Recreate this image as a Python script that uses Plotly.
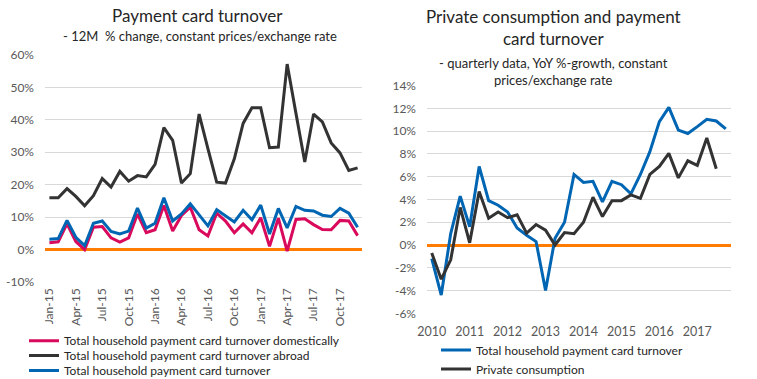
import plotly.graph_objects as go

# ---------- Left chart data (monthly, 12M % change) ----------
months = ["Jan-15","Feb-15","Mar-15","Apr-15","May-15","Jun-15","Jul-15","Aug-15","Sep-15","Oct-15","Nov-15","Dec-15",
          "Jan-16","Feb-16","Mar-16","Apr-16","May-16","Jun-16","Jul-16","Aug-16","Sep-16","Oct-16","Nov-16","Dec-16",
          "Jan-17","Feb-17","Mar-17","Apr-17","May-17","Jun-17","Jul-17","Aug-17","Sep-17","Oct-17","Nov-17","Dec-17"]
month_ticks = ["Jan-15","Apr-15","Jul-15","Oct-15","Jan-16","Apr-16","Jul-16","Oct-16","Jan-17","Apr-17","Jul-17","Oct-17"]

domestic = [2.1, 2.4, 7.9, 2.5, 0.0, 6.9, 7.1, 3.6, 2.3, 3.6, 11.0, 5.2,
            6.1, 13.6, 5.7, 10.5, 13.1, 6.1, 4.2, 11.2, 8.8, 5.2, 7.9, 5.2,
            9.8, 1.0, 9.7, -0.5, 9.3, 9.5, 7.7, 6.2, 6.1, 9.0, 8.8, 4.3]
abroad = [16.0, 16.0, 18.8, 16.4, 13.5, 16.6, 21.9, 19.3, 24.1, 21.1, 22.8, 22.4,
          26.3, 37.6, 33.7, 20.5, 23.4, 41.8, 31.1, 20.8, 20.5, 28.0, 38.9, 43.7,
          43.7, 31.4, 31.6, 57.2, 42.0, 27.0, 41.8, 39.4, 32.9, 29.8, 24.4, 25.2]
total_m = [3.2, 3.4, 9.0, 3.8, 1.2, 8.1, 8.8, 5.6, 4.8, 5.7, 12.8, 6.6,
           8.1, 16.0, 8.8, 11.0, 14.1, 10.8, 7.3, 12.3, 10.4, 8.5, 12.1, 9.2,
           13.7, 4.8, 12.7, 6.7, 13.3, 12.1, 11.9, 10.6, 10.2, 12.7, 11.2, 6.9]

# ---------- Right chart data (quarterly, YoY %) ----------
quarters = ["2010Q1","2010Q2","2010Q3","2010Q4","2011Q1","2011Q2","2011Q3","2011Q4",
            "2012Q1","2012Q2","2012Q3","2012Q4","2013Q1","2013Q2","2013Q3","2013Q4",
            "2014Q1","2014Q2","2014Q3","2014Q4","2015Q1","2015Q2","2015Q3","2015Q4",
            "2016Q1","2016Q2","2016Q3","2016Q4","2017Q1","2017Q2","2017Q3","2017Q4"]
year_ticks = ["2010Q1","2011Q1","2012Q1","2013Q1","2014Q1","2015Q1","2016Q1","2017Q1"]
year_labels = ["2010","2011","2012","2013","2014","2015","2016","2017"]

card_q = [-1.2, -4.4, 1.0, 4.3, 1.6, 6.9, 3.9, 3.5, 2.9, 1.5, 0.85, 0.3,
          -4.0, 0.6, 2.0, 6.2, 5.5, 5.6, 3.8, 5.6, 5.3, 4.5, 6.2, 8.2,
          10.85, 12.1, 10.1, 9.8, 10.4, 11.05, 10.9, 10.2]
consumption = [-0.7, -3.0, -1.3, 3.3, 0.2, 4.7, 2.35, 2.9, 2.4, 2.65, 1.05, 1.8,
               1.3, 0.0, 1.1, 1.0, 2.0, 4.2, 2.5, 3.9, 3.9, 4.4, 4.1, 6.2,
               6.9, 8.05, 5.9, 7.4, 7.0, 9.4, 6.7]

PINK = "#D90A5C"
DARK = "#333333"
BLUE = "#0066B3"
ORANGE = "#FF7C00"
GRID = "#D9D9D9"
TICK = "#595959"
TXT = "#262626"
FONT = "Lato"

W, H = 757, 379
def xd(a, b):
    return [a / W, b / W]
def yd(top, bottom):
    return [(H - bottom) / H, (H - top) / H]

fig = go.Figure()

fig.add_trace(go.Scatter(x=months, y=domestic, mode="lines", name="Total household payment card turnover domestically",
                         line=dict(color=PINK, width=3), xaxis="x", yaxis="y", legend="legend"))
fig.add_trace(go.Scatter(x=months, y=abroad, mode="lines", name="Total household payment card turnover abroad",
                         line=dict(color=DARK, width=3), xaxis="x", yaxis="y", legend="legend3"))
fig.add_trace(go.Scatter(x=months, y=total_m, mode="lines", name="Total household payment card turnover",
                         line=dict(color=BLUE, width=3), xaxis="x", yaxis="y", legend="legend4"))

fig.add_trace(go.Scatter(x=quarters, y=card_q, mode="lines", name="Total household payment card turnover",
                         line=dict(color=BLUE, width=3), xaxis="x2", yaxis="y2", legend="legend2"))
fig.add_trace(go.Scatter(x=quarters[:len(consumption)], y=consumption, mode="lines", name="Private consumption",
                         line=dict(color=DARK, width=3), xaxis="x2", yaxis="y2", legend="legend5"))

tickfont = dict(family=FONT, size=12, color=TICK)

def leg(x, yc):
    return dict(x=x / W, y=(H - yc) / H, xanchor="left", yanchor="middle", orientation="v",
                font=dict(family=FONT, size=12, color=TXT), itemwidth=30,
                bgcolor="rgba(0,0,0,0)", borderwidth=0)

fig.update_layout(
    width=W, height=H,
    margin=dict(l=0, r=0, t=0, b=0, autoexpand=False),
    paper_bgcolor="white", plot_bgcolor="white",
    font=dict(family=FONT, color=TXT),
    xaxis=dict(domain=xd(45, 362), type="category", categoryorder="array", categoryarray=months,
               range=[-0.5, 35.5], tickmode="array", tickvals=month_ticks, ticktext=month_ticks,
               tickangle=-90, tickfont=tickfont, showgrid=False, showline=False, ticks="",
               zeroline=False, anchor="y", ticklabelstandoff=3),
    yaxis=dict(domain=yd(55, 282), range=[-10, 60], tickvals=[-10, 0, 10, 20, 30, 40, 50, 60],
               ticktext=["-10%", "0%", "10%", "20%", "30%", "40%", "50%", "60%"],
               tickfont=tickfont, showgrid=True, gridcolor=GRID, gridwidth=1, ticks="",
               ticklabelstandoff=10, zeroline=True, zerolinecolor=ORANGE, zerolinewidth=2.5,
               showline=False, anchor="x"),
    xaxis2=dict(domain=xd(427, 730.5), type="category", categoryorder="array", categoryarray=quarters,
                range=[-0.5, 31.5], tickmode="array", tickvals=year_ticks, ticktext=year_labels,
                tickangle=0, tickfont=dict(family=FONT, size=12.5, color=TICK), showgrid=False,
                showline=False, ticks="", zeroline=False, anchor="y2", ticklabelstandoff=9),
    yaxis2=dict(domain=yd(85.7, 313.3), range=[-6, 14], tickvals=[-6, -4, -2, 0, 2, 4, 6, 8, 10, 12, 14],
                ticktext=["-6%", "-4%", "-2%", "0%", "2%", "4%", "6%", "8%", "10%", "12%", "14%"],
                tickfont=tickfont, showgrid=True, gridcolor=GRID, gridwidth=1, ticks="",
                ticklabelstandoff=10, zeroline=True, zerolinecolor=ORANGE, zerolinewidth=2.5,
                showline=False, anchor="x2"),
    legend=leg(24, 340.7),
    legend3=leg(24, 355.5),
    legend4=leg(24, 370.5),
    legend2=leg(436, 350),
    legend5=leg(436, 369),
    showlegend=True,
)

fig.add_annotation(text="Payment card turnover", x=197 / W, y=(H - 15) / H, xref="paper", yref="paper",
                   showarrow=False, xanchor="center", yanchor="middle",
                   font=dict(family=FONT, size=17, color=TXT))
fig.add_annotation(text="- 12M  % change, constant prices/exchange rate", x=200 / W, y=(H - 36) / H,
                   xref="paper", yref="paper", showarrow=False, xanchor="center", yanchor="middle",
                   font=dict(family=FONT, size=13, color=TXT))
fig.add_annotation(text="Private consumption and payment<br>card turnover", x=553 / W, y=(H - 27) / H,
                   xref="paper", yref="paper", showarrow=False, xanchor="center", yanchor="middle",
                   font=dict(family=FONT, size=17, color=TXT))
fig.add_annotation(text="- quarterly data, YoY %-growth, constant<br>prices/exchange rate", x=553 / W,
                   y=(H - 71.5) / H, xref="paper", yref="paper", showarrow=False, xanchor="center",
                   yanchor="middle", font=dict(family=FONT, size=13, color=TXT))

fig.write_html("out.html", config={"displayModeBar": False},
               post_script="document.body.style.margin='0';document.body.style.overflow='hidden';")
